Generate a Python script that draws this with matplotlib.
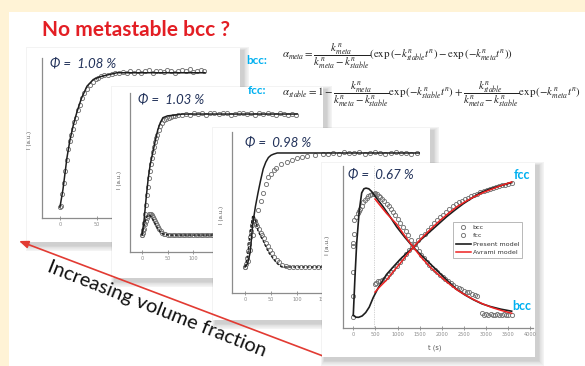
import matplotlib
matplotlib.use('Agg')
import matplotlib.pyplot as plt
from matplotlib.patches import Rectangle

plt.rcParams['mathtext.fontset'] = 'stix'

# ---------------- data ----------------
# Panel 1 : phi = 1.08 %
p1_t_model = [0, 4, 9.5, 13.5, 18, 23, 29, 36.5, 45, 54, 65, 77, 100, 130, 160, 196]
p1_I_model = [0, 0.13, 0.37, 0.50, 0.61, 0.71, 0.81, 0.90, 0.95, 0.97, 0.985, 1.0, 1.0, 1.0, 1.0, 1.0]
p1_t_data = [0, 1, 3, 5, 7, 9, 11, 13, 15, 17, 19, 21, 24, 27, 30, 33, 36, 40, 44, 48, 52, 56, 60,
             65, 70, 75, 80, 85, 90, 95, 100, 105, 110, 115, 120, 125, 130, 135, 140, 145, 150,
             155, 160, 165, 170, 175, 180, 185, 190, 195]
p1_I_data = [0.0, 0.01, 0.10, 0.18, 0.27, 0.35, 0.43, 0.49, 0.54, 0.58, 0.63, 0.66, 0.72, 0.76,
             0.81, 0.85, 0.88, 0.91, 0.93, 0.95, 0.96, 0.975, 0.98, 0.985, 0.99, 0.995, 1.0,
             1.005, 0.995, 1.01, 1.0, 1.015, 0.995, 1.01, 1.02, 1.0, 1.01, 1.015, 1.005, 1.02,
             1.01, 1.0, 1.015, 1.02, 1.01, 1.025, 1.005, 1.015, 1.02, 1.01]

# Panel 2 : phi = 1.03 %
p2_t_fcc_model = [0, 4, 8, 12, 16, 21, 26, 31, 36, 41, 50, 61, 80, 120, 200, 304]
p2_I_fcc_model = [0, 0.12, 0.30, 0.46, 0.58, 0.68, 0.78, 0.87, 0.93, 0.97, 0.985, 0.99, 1.0, 1.0, 1.0, 1.0]
p2_t_bcc_model = [0, 4, 8, 12, 16, 20, 25, 30, 35, 40, 45, 55, 80, 120, 200, 304]
p2_I_bcc_model = [0, 0.08, 0.14, 0.165, 0.16, 0.14, 0.10, 0.06, 0.03, 0.012, 0.004, 0, 0, 0, 0, 0]
p2_t_fcc_data = [0, 2, 4, 6, 8, 10, 12, 14, 16, 18, 20, 22, 24, 26, 28, 30, 33, 36, 40, 44, 48,
                 52, 56, 60, 65, 70, 78, 86, 94, 102, 110, 118, 126, 134, 142, 150, 158, 166,
                 174, 182, 190, 198, 206, 214, 222, 230, 238, 246, 254, 262, 270, 278, 286, 294, 302]
p2_I_fcc_data = [0.0, 0.04, 0.10, 0.17, 0.25, 0.33, 0.40, 0.47, 0.53, 0.59, 0.64, 0.69, 0.73,
                 0.77, 0.80, 0.83, 0.87, 0.90, 0.93, 0.95, 0.96, 0.97, 0.975, 0.98, 0.985, 0.99,
                 0.995, 1.0, 0.995, 1.005, 1.0, 1.01, 0.995, 1.005, 1.01, 1.0, 1.005, 1.01,
                 0.995, 1.0, 1.01, 1.005, 1.0, 1.01, 0.995, 1.005, 1.0, 1.01, 1.0, 0.995, 1.005,
                 1.0, 0.995, 1.0, 0.99]
p2_t_bcc_data = [0, 2, 4, 6, 8, 10, 12, 14, 16, 18, 20, 22, 24, 26, 28, 30, 32, 34, 37, 40, 43,
                 46, 50, 55, 60, 65, 70, 75, 80, 85, 90, 95, 100, 105, 110, 115, 120, 125, 130,
                 135, 140, 145, 150]
p2_I_bcc_data = [0.0, 0.02, 0.05, 0.09, 0.12, 0.14, 0.16, 0.17, 0.175, 0.17, 0.165, 0.15, 0.135,
                 0.12, 0.10, 0.08, 0.065, 0.05, 0.035, 0.02, 0.012, 0.006, 0.003, 0.0, 0.004,
                 0.0, -0.003, 0.003, 0.0, 0.004, -0.002, 0.002, 0.0, 0.004, 0.0, -0.002, 0.003,
                 0.0, 0.002, 0.0, 0.003, 0.0, 0.002]

# Panel 3 : phi = 0.98 %
p3_t_fcc_model = [0, 5, 10, 15, 20, 25, 30, 35, 40, 45, 50, 55, 62, 80, 120, 200, 260, 336]
p3_I_fcc_model = [0, 0.03, 0.13, 0.38, 0.53, 0.65, 0.76, 0.86, 0.92, 0.96, 0.98, 0.99, 1.0,
                  1.0, 1.0, 1.0, 1.0, 1.0]
p3_t_bcc_model = [0, 5, 10, 15, 18, 22, 25, 30, 35, 40, 45, 52, 60, 67, 75, 120, 200, 336]
p3_I_bcc_model = [0, 0.10, 0.30, 0.455, 0.44, 0.38, 0.32, 0.27, 0.23, 0.18, 0.13, 0.088, 0.04,
                  0.01, 0.0, 0.0, 0.0, 0.0]
p3_t_fcc_data = [0, 5, 10, 15, 20, 25, 30, 35, 40, 45, 50, 55, 60, 70, 80, 90, 100, 110, 120,
                 135, 150, 160, 170, 180, 190, 200, 210, 220, 230, 240, 250, 260, 270, 280,
                 290, 300, 310, 320, 330]
p3_I_fcc_data = [0.0, 0.05, 0.15, 0.28, 0.40, 0.50, 0.58, 0.65, 0.73, 0.79, 0.82, 0.85, 0.87,
                 0.90, 0.92, 0.94, 0.955, 0.965, 0.975, 0.985, 0.99, 0.995, 1.0, 0.995, 1.005,
                 1.0, 1.0, 1.005, 0.995, 1.0, 1.005, 1.0, 0.995, 1.0, 1.005, 1.0, 1.0, 0.995, 1.0]
p3_t_bcc_data = [0, 2, 4, 6, 8, 10, 12, 14, 16, 18, 20, 22, 24, 27, 30, 33, 36, 40, 44, 48, 52,
                 56, 61, 66, 72, 78, 85, 92, 100, 108, 116, 124, 132, 140, 148, 156, 164, 172,
                 180, 188, 196, 204, 212, 220, 228, 236, 244, 252, 260, 268, 276, 284, 292, 300]
p3_I_bcc_data = [0.0, 0.03, 0.08, 0.14, 0.20, 0.26, 0.32, 0.37, 0.40, 0.41, 0.40, 0.38, 0.36,
                 0.33, 0.30, 0.28, 0.25, 0.21, 0.18, 0.15, 0.12, 0.09, 0.06, 0.04, 0.02, 0.005,
                 0.0, 0.003, 0.0, 0.002, 0.0, 0.003, 0.0, 0.002, 0.0, 0.003, 0.0, 0.002, 0.0,
                 0.003, 0.0, 0.002, 0.0, 0.003, 0.0, 0.002, 0.0, 0.003, 0.0, 0.002, 0.0, 0.003,
                 0.0, 0.002]

# Panel 4 : phi = 0.67 %
p4_t_bcc_model = [0, 38, 77, 135, 190, 240, 287, 350, 415, 528, 670, 820, 980, 1160, 1354,
                  1540, 1731, 1920, 2108, 2334, 2520, 2709, 2900, 3086, 3330, 3575]
p4_I_bcc_model = [0.02, 0.30, 0.55, 0.79, 0.92, 0.95, 0.955, 0.95, 0.93, 0.88, 0.82, 0.75,
                  0.67, 0.595, 0.52, 0.46, 0.40, 0.34, 0.28, 0.21, 0.17, 0.135, 0.105, 0.085,
                  0.065, 0.05]
p4_t_fcc_model = [0, 60, 120, 200, 280, 360, 450, 560, 750, 900, 1054, 1200, 1354, 1540, 1731,
                  1920, 2108, 2300, 2483, 2670, 2860, 3050, 3237, 3400, 3575]
p4_I_fcc_model = [0.02, 0.006, 0.005, 0.015, 0.04, 0.08, 0.15, 0.22, 0.32, 0.375, 0.43, 0.475,
                  0.52, 0.58, 0.635, 0.69, 0.745, 0.795, 0.84, 0.88, 0.92, 0.945, 0.965, 0.98,
                  0.995]
p4_t_bcc_avrami = [490, 600, 750, 980, 1150, 1354, 1550, 1750, 1950, 2150, 2350, 2550, 2750,
                   2950, 3150, 3350, 3575]
p4_I_bcc_avrami = [0.875, 0.83, 0.77, 0.69, 0.61, 0.52, 0.44, 0.37, 0.31, 0.255, 0.205, 0.165,
                   0.13, 0.10, 0.075, 0.055, 0.035]
p4_t_fcc_avrami = [490, 600, 753, 900, 1054, 1200, 1354, 1550, 1750, 1950, 2150, 2350, 2550,
                   2750, 2950, 3150, 3350, 3575]
p4_I_fcc_avrami = [0.19, 0.23, 0.28, 0.34, 0.40, 0.46, 0.52, 0.59, 0.655, 0.715, 0.77, 0.82,
                   0.86, 0.895, 0.925, 0.95, 0.975, 1.0]
p4_t_bcc_data = [0, 0, 0, 0, 5, 10, 20, 60, 100, 135, 160, 190, 230, 270, 300, 340, 377, 420,
                 460, 490, 530, 570, 610, 650, 700, 750, 800, 850, 900, 950, 1000, 1060, 1120,
                 1180, 1240, 1300, 1360, 1420, 1480, 1540, 1600, 1660, 1720, 1780, 1840, 1900,
                 1960, 2020, 2080, 2140, 2200, 2260, 2320, 2380, 2440, 2500, 2560, 2620, 2680,
                 2740, 2800, 2900, 2950, 3000, 3050, 3100, 3150, 3200, 3250, 3300, 3350, 3400,
                 3450, 3500, 3575]
p4_I_bcc_data = [0.01, 0.16, 0.34, 0.55, 0.53, 0.62, 0.72, 0.74, 0.77, 0.79, 0.80, 0.82, 0.85,
                 0.87, 0.88, 0.895, 0.905, 0.91, 0.915, 0.917, 0.91, 0.90, 0.89, 0.875, 0.86,
                 0.84, 0.82, 0.80, 0.78, 0.755, 0.73, 0.70, 0.67, 0.64, 0.61, 0.575, 0.545,
                 0.515, 0.49, 0.46, 0.44, 0.415, 0.39, 0.37, 0.35, 0.335, 0.315, 0.30, 0.285,
                 0.27, 0.255, 0.245, 0.23, 0.22, 0.215, 0.20, 0.19, 0.19, 0.18, 0.17, 0.165,
                 0.035, 0.025, 0.03, 0.02, 0.03, 0.025, 0.02, 0.03, 0.025, 0.02, 0.03, 0.02,
                 0.025, 0.02]
p4_t_fcc_data = [490, 520, 560, 600, 650, 700, 753, 800, 850, 900, 980, 1050, 1120, 1190, 1260,
                 1330, 1400, 1470, 1540, 1610, 1680, 1750, 1820, 1890, 1960, 2030, 2100, 2170,
                 2240, 2310, 2380, 2450, 2520, 2590, 2660, 2730, 2800, 2870, 2940, 3010, 3080,
                 3150, 3220, 3290, 3360, 3430, 3500, 3575]
p4_I_fcc_data = [0.25, 0.26, 0.27, 0.275, 0.28, 0.29, 0.30, 0.32, 0.34, 0.36, 0.38, 0.41, 0.44,
                 0.47, 0.50, 0.52, 0.545, 0.57, 0.60, 0.62, 0.645, 0.67, 0.70, 0.72, 0.74, 0.76,
                 0.78, 0.80, 0.82, 0.835, 0.85, 0.86, 0.875, 0.885, 0.895, 0.905, 0.915, 0.925,
                 0.935, 0.94, 0.95, 0.955, 0.96, 0.97, 0.975, 0.98, 0.985, 0.99]
p4_t_start_line = 470

p1_ticks = [0, 50, 100, 150, 200]
p23_ticks = [0, 50, 100, 150, 200, 250, 300]
p4_ticks = [0, 500, 1000, 1500, 2000, 2500, 3000, 3500, 4000]

titles = ['Φ =  1.08 %', 'Φ =  1.03 %', 'Φ =  0.98 %', 'Φ =  0.67 %']
main_title = 'No metastable bcc ?'
arrow_text = 'Increasing volume fraction'
legend_labels = ['bcc', 'fcc', 'Present model', 'Avrami model']
eq_bcc = (r'$\alpha_{meta}=\dfrac{k_{meta}^{n}}{k_{meta}^{n}-k_{stable}^{n}}'
          r'\left(\exp\left(-k_{stable}^{n}t^{n}\right)-\exp\left(-k_{meta}^{n}t^{n}\right)\right)$')
eq_fcc = (r'$\alpha_{stable}=1-\dfrac{k_{meta}^{n}}{k_{meta}^{n}-k_{stable}^{n}}'
          r'\exp\left(-k_{stable}^{n}t^{n}\right)+\dfrac{k_{stable}^{n}}{k_{meta}^{n}-k_{stable}^{n}}'
          r'\exp\left(-k_{meta}^{n}t^{n}\right)$')

# ---------------- style ----------------
W, H = 585, 366
SANS = ['Lato', 'DejaVu Sans']
CREAM = '#FFF3D6'
RED = '#E31E24'
BLUE = '#00B0F0'
NAVY = '#22325a'
GRAY = '#747474'
BLACK = '#1e1e1e'
LRED = '#EE2222'

fig = plt.figure(figsize=(W / 100, H / 100), dpi=100)
fig.patch.set_facecolor('white')


def px_axes(z):
    ax = fig.add_axes([0, 0, 1, 1], zorder=z)
    ax.set_xlim(0, W)
    ax.set_ylim(H, 0)
    ax.axis('off')
    ax.patch.set_visible(False)
    return ax


def panel_box(ax, x0, y0, x1, y1):
    for k in range(1, 9):
        ax.add_patch(Rectangle((x0 + 3 - k * 0.55, y0 + 3 - k * 0.55),
                               (x1 - x0) + k * 1.35, (y1 - y0) + k * 1.35,
                               facecolor='black', edgecolor='none', alpha=0.025))
    ax.add_patch(Rectangle((x0, y0), x1 - x0, y1 - y0, facecolor='white', edgecolor='none'))


def data_axes(l, t, r, b, z, xlim, ylim, ticks):
    ax = fig.add_axes([l / W, 1 - b / H, (r - l) / W, (b - t) / H], zorder=z)
    ax.patch.set_visible(False)
    for s in ['top', 'right']:
        ax.spines[s].set_visible(False)
    for s in ['left', 'bottom']:
        ax.spines[s].set_color('#8c8c8c')
        ax.spines[s].set_linewidth(0.9)
    ax.set_xlim(*xlim)
    ax.set_ylim(*ylim)
    ax.set_xticks(ticks)
    ax.tick_params(axis='x', direction='inout', length=2.5, width=0.6, color='#8c8c8c',
                   labelsize=3.6, labelcolor='#8a8a8a', pad=1.5)
    ax.set_yticks([])
    return ax


def circles(ax, t, I, **kw):
    return ax.plot(t, I, ls='none', marker='o', ms=3.0, mfc='none', mec=GRAY, mew=0.65, **kw)


# background
bg = px_axes(0)
bg.add_patch(Rectangle((0, 0), W, 12, facecolor=CREAM, edgecolor='none'))
bg.add_patch(Rectangle((0, 0), 9, H, facecolor=CREAM, edgecolor='none'))
bg.text(42, 30, main_title, color=RED, fontsize=15, fontweight='bold', family=SANS,
        ha='left', va='center')

# ---- panel 1
b1 = px_axes(1)
panel_box(b1, 27, 48, 240, 242)
b1.text(50, 64, titles[0], fontsize=9.5, style='italic', color=NAVY, family=SANS, va='center')
b1.text(30, 140, 'I (a.u.)', fontsize=4, color='#555555', rotation=90, ha='center', va='center')
a1 = data_axes(42, 58, 230, 218, 2, (-24.3, 229.7), (-0.082, 1.11), p1_ticks)
circles(a1, p1_t_data, p1_I_data)
a1.plot(p1_t_model, p1_I_model, color=BLACK, lw=1.1)

# ---- panel 2
b2 = px_axes(3)
panel_box(b2, 112, 87, 323, 278)
b2.text(138, 100, titles[1], fontsize=9.5, style='italic', color=NAVY, family=SANS, va='center')
b2.text(120, 180, 'I (a.u.)', fontsize=4, color='#555555', rotation=90, ha='center', va='center')
a2 = data_axes(130, 93, 315, 252, 4, (-23.5, 339), (-0.14, 1.174), p23_ticks)
circles(a2, p2_t_fcc_data, p2_I_fcc_data)
circles(a2, p2_t_bcc_data, p2_I_bcc_data)
a2.plot(p2_t_fcc_model, p2_I_fcc_model, color=BLACK, lw=1.1)
a2.plot(p2_t_bcc_model, p2_I_bcc_model, color=BLACK, lw=1.0, ls=(0, (2, 1.2)))

# ---- panel 3
b3 = px_axes(5)
panel_box(b3, 213, 128, 430, 320)
b3.text(245, 143, titles[2], fontsize=9.5, style='italic', color=NAVY, family=SANS, va='center')
b3.text(222, 215, 'I (a.u.)', fontsize=4, color='#555555', rotation=90, ha='center', va='center')
b3.text(329, 313, 't (s)', fontsize=4.8, color='#555555', ha='center', va='center')
a3 = data_axes(232, 132, 420, 293, 6, (-25, 336.5), (-0.228, 1.184), p23_ticks)
circles(a3, p3_t_fcc_data, p3_I_fcc_data)
circles(a3, p3_t_bcc_data, p3_I_bcc_data)
a3.plot(p3_t_fcc_model, p3_I_fcc_model, color=BLACK, lw=1.1)
a3.plot(p3_t_bcc_model, p3_I_bcc_model, color=BLACK, lw=1.0, ls=(0, (2, 1.2)))

# ---- arrow + text (between panel 3 and panel 4)
ar = px_axes(6.5)
ar.annotate('', xy=(19, 241), xytext=(323, 356),
            arrowprops=dict(arrowstyle='-|>,head_length=0.55,head_width=0.22',
                            color='#E23B33', lw=1.2, shrinkA=0, shrinkB=0))
ar.text(157, 309, arrow_text, fontsize=14.5, family=SANS, color='#111111', rotation=-21.5,
        rotation_mode='anchor', ha='center', va='center')

# ---- panel 4
b4 = px_axes(7)
panel_box(b4, 322, 163, 535, 357)
b4.text(348, 175, titles[3], fontsize=9.5, style='italic', color=NAVY, family=SANS, va='center')
b4.text(328, 245, 'I (a.u.)', fontsize=4.2, color='#555555', rotation=90, ha='center', va='center')
b4.text(435, 348, 't (s)', fontsize=4.8, color='#555555', ha='center', va='center')
b4.text(522, 175, 'fcc', fontsize=9, fontweight='bold', color=BLUE, family=SANS,
        ha='center', va='center')
b4.text(522, 306, 'bcc', fontsize=9, fontweight='bold', color=BLUE, family=SANS,
        ha='center', va='center')
a4 = data_axes(343, 166, 533, 328, 8, (-232, 4057), (-0.0735, 1.1176), p4_ticks)
a4.axvline(p4_t_start_line, color='#aaaaaa', lw=0.5, ls=(0, (1, 1.5)))
h_bcc, = circles(a4, p4_t_bcc_data, p4_I_bcc_data)
h_fcc, = circles(a4, p4_t_fcc_data, p4_I_fcc_data)
h_pm, = a4.plot(p4_t_bcc_model, p4_I_bcc_model, color=BLACK, lw=1.2)
a4.plot(p4_t_fcc_model, p4_I_fcc_model, color=BLACK, lw=1.2)
h_av, = a4.plot(p4_t_bcc_avrami, p4_I_bcc_avrami, color=LRED, lw=1.1)
a4.plot(p4_t_fcc_avrami, p4_I_fcc_avrami, color=LRED, lw=1.1)
leg = a4.legend([h_bcc, h_fcc, h_pm, h_av], legend_labels, loc='upper left',
                bbox_to_anchor=(0.579, 0.654), fontsize=4.6, frameon=True, fancybox=False,
                edgecolor='#999999', handlelength=2.4, handletextpad=0.3, borderpad=0.4,
                labelspacing=0.45, borderaxespad=0)
leg.get_frame().set_linewidth(0.6)
for txt in leg.get_texts():
    txt.set_color('#333333')

# ---- formulas (top)
fo = px_axes(20)
fo.text(246, 60, 'bcc:', fontsize=8.5, fontweight='bold', color=BLUE, family=SANS, va='center')
fo.text(282, 56, eq_bcc, fontsize=7.8, color='#222222', va='center', ha='left')
fo.text(248, 91, 'fcc:', fontsize=8.5, fontweight='bold', color=BLUE, family=SANS, va='center')
fo.text(282, 94, eq_fcc, fontsize=7.8, color='#222222', va='center', ha='left')

fig.savefig('out.png', dpi=100, facecolor='white')
